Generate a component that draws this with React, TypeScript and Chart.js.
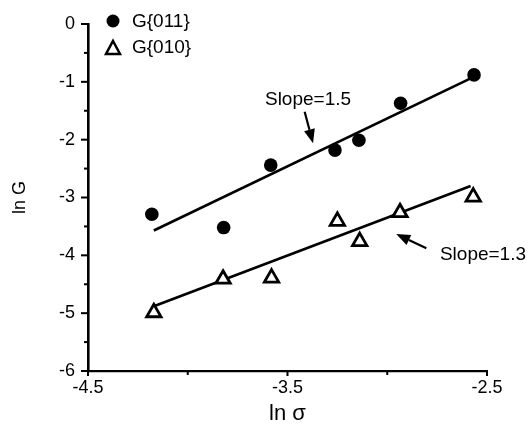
import React, { useEffect, useRef } from 'react';
import { Chart, registerables } from 'chart.js';

Chart.register(...registerables);

// ---- data ----
const g011X = [-4.18, -3.82, -3.584, -3.262, -3.142, -2.933, -2.565];
const g011Y = [-3.29, -3.52, -2.44, -2.18, -2.01, -1.37, -0.88];
const g010X = [-4.17, -3.823, -3.58, -3.25, -3.138, -2.936, -2.569];
const g010Y = [-4.99, -4.41, -4.39, -3.41, -3.76, -3.26, -2.99];
const fit011X = [-4.17, -2.582];
const fit011Y = [-3.57, -0.94];
const fit010X = [-4.17, -2.582];
const fit010Y = [-4.88, -2.8];

const xMajorTicks = [-4.5, -3.5, -2.5];
const xMinorTicks = [-4, -3];
const yMajorTicks = [0, -1, -2, -3, -4, -5, -6];
const yMinorTicks = [-0.5, -1.5, -2.5, -3.5, -4.5, -5.5];

const seriesLabels = ['G{011}', 'G{010}'];
const slopeTexts = ['Slope=1.5', 'Slope=1.3'];
const slopeTextX = [-3.613, -2.736];
const slopeTextY = [-1.314, -3.995];
const arrowFromX = [-3.414, -2.804];
const arrowFromY = [-1.516, -3.879];
const arrowToX = [-3.372, -2.955];
const arrowToY = [-2.063, -3.631];

const FONT = '"Liberation Sans", Arial, Helvetica, sans-serif';

const toPts = (xs: number[], ys: number[]) => xs.map((x, i) => ({ x, y: ys[i] }));

const decorPlugin = {
  id: 'decor',
  afterDraw(chart: any) {
    const { ctx, chartArea, scales } = chart;
    const xs = scales.x;
    const ys = scales.y;
    ctx.save();
    ctx.strokeStyle = '#000';
    ctx.fillStyle = '#000';
    // tick marks
    ctx.lineWidth = 2;
    const tickY = (v: number, len: number) => {
      const p = ys.getPixelForValue(v);
      ctx.beginPath();
      ctx.moveTo(chartArea.left - len, p);
      ctx.lineTo(chartArea.left, p);
      ctx.stroke();
    };
    yMajorTicks.forEach((v) => tickY(v, 7));
    yMinorTicks.forEach((v) => tickY(v, 4));
    const tickX = (v: number, len: number) => {
      const p = xs.getPixelForValue(v);
      ctx.beginPath();
      ctx.moveTo(p, chartArea.bottom);
      ctx.lineTo(p, chartArea.bottom + len);
      ctx.stroke();
    };
    xMajorTicks.forEach((v) => tickX(v, 5));
    xMinorTicks.forEach((v) => tickX(v, 4));

    // legend
    const lx = chartArea.left + 25;
    const ly = chartArea.top - 3;
    ctx.beginPath();
    ctx.arc(lx, ly, 6.5, 0, Math.PI * 2);
    ctx.fill();
    const ty = ly + 27;
    ctx.lineWidth = 2.5;
    ctx.beginPath();
    ctx.moveTo(lx, ty - 7);
    ctx.lineTo(lx + 7, ty + 6);
    ctx.lineTo(lx - 7, ty + 6);
    ctx.closePath();
    ctx.stroke();
    ctx.font = `19px ${FONT}`;
    ctx.textAlign = 'left';
    ctx.textBaseline = 'middle';
    ctx.fillText(seriesLabels[0], lx + 19, ly + 1);
    ctx.fillText(seriesLabels[1], lx + 19, ty);

    // slope annotations
    ctx.font = `19px ${FONT}`;
    slopeTexts.forEach((t, i) => {
      ctx.fillText(t, xs.getPixelForValue(slopeTextX[i]), ys.getPixelForValue(slopeTextY[i]));
      const x1 = xs.getPixelForValue(arrowFromX[i]);
      const y1 = ys.getPixelForValue(arrowFromY[i]);
      const x2 = xs.getPixelForValue(arrowToX[i]);
      const y2 = ys.getPixelForValue(arrowToY[i]);
      const ang = Math.atan2(y2 - y1, x2 - x1);
      const hl = 14;
      const hw = 5.5;
      const bx = x2 - Math.cos(ang) * hl;
      const by = y2 - Math.sin(ang) * hl;
      ctx.lineWidth = 2.2;
      ctx.beginPath();
      ctx.moveTo(x1, y1);
      ctx.lineTo(bx, by);
      ctx.stroke();
      ctx.beginPath();
      ctx.moveTo(x2, y2);
      ctx.lineTo(bx - Math.sin(ang) * hw, by + Math.cos(ang) * hw);
      ctx.lineTo(bx + Math.sin(ang) * hw, by - Math.cos(ang) * hw);
      ctx.closePath();
      ctx.fill();
    });
    ctx.restore();
  },
};

export default function App() {
  const ref = useRef<HTMLCanvasElement | null>(null);
  useEffect(() => {
    if (!ref.current) return;
    const chart = new Chart(ref.current, {
      type: 'scatter',
      data: {
        datasets: [
          {
            label: seriesLabels[0],
            data: toPts(g011X, g011Y),
            pointStyle: 'circle',
            pointRadius: 6.8,
            backgroundColor: '#000',
            borderColor: '#000',
            borderWidth: 0,
          },
          {
            label: seriesLabels[1],
            data: toPts(g010X, g010Y),
            pointStyle: 'triangle',
            pointRadius: 8.3,
            backgroundColor: '#fff',
            borderColor: '#000',
            borderWidth: 2.8,
          },
          {
            label: 'fit011',
            data: toPts(fit011X, fit011Y),
            showLine: true,
            pointRadius: 0,
            borderColor: '#000',
            borderWidth: 2.6,
            order: 5,
          },
          {
            label: 'fit010',
            data: toPts(fit010X, fit010Y),
            showLine: true,
            pointRadius: 0,
            borderColor: '#000',
            borderWidth: 2.6,
            order: 5,
          },
        ],
      },
      options: {
        animation: false,
        responsive: false,
        events: [],
        layout: { padding: { left: 0, right: 42, top: 24, bottom: 0 } },
        plugins: { legend: { display: false }, tooltip: { enabled: false } },
        scales: {
          x: {
            type: 'linear',
            min: -4.5,
            max: -2.5,
            grid: { display: false, drawTicks: false },
            border: { display: true, color: '#000', width: 2.2 },
            afterBuildTicks: (s: any) => {
              s.ticks = xMajorTicks.map((v) => ({ value: v }));
            },
            afterFit: (s: any) => {
              s.height = 68;
            },
            ticks: {
              color: '#000',
              padding: 6,
              maxRotation: 0,
              font: { family: FONT, size: 18 },
              callback: (v: any) => String(v),
            },
            title: {
              display: true,
              text: 'ln σ',
              color: '#000',
              font: { family: FONT, size: 22 },
              padding: { bottom: 12, top: 0 },
            },
          },
          y: {
            type: 'linear',
            min: -6,
            max: 0,
            grid: { display: false, drawTicks: false },
            border: { display: true, color: '#000', width: 2.6 },
            afterBuildTicks: (s: any) => {
              s.ticks = yMajorTicks.map((v) => ({ value: v }));
            },
            afterFit: (s: any) => {
              s.width = 88;
            },
            ticks: {
              color: '#000',
              padding: 13,
              font: { family: FONT, size: 18 },
              callback: (v: any) => String(v),
            },
            title: {
              display: true,
              text: 'ln G',
              color: '#000',
              font: { family: FONT, size: 18 },
              padding: { top: 9, bottom: 0 },
            },
          },
        },
      },
      plugins: [decorPlugin],
    });
    return () => chart.destroy();
  }, []);
  return (
    <canvas
      ref={ref}
      width={529}
      height={439}
      style={{ position: 'absolute', left: 0, top: 0, width: 529, height: 439 }}
    />
  );
}
